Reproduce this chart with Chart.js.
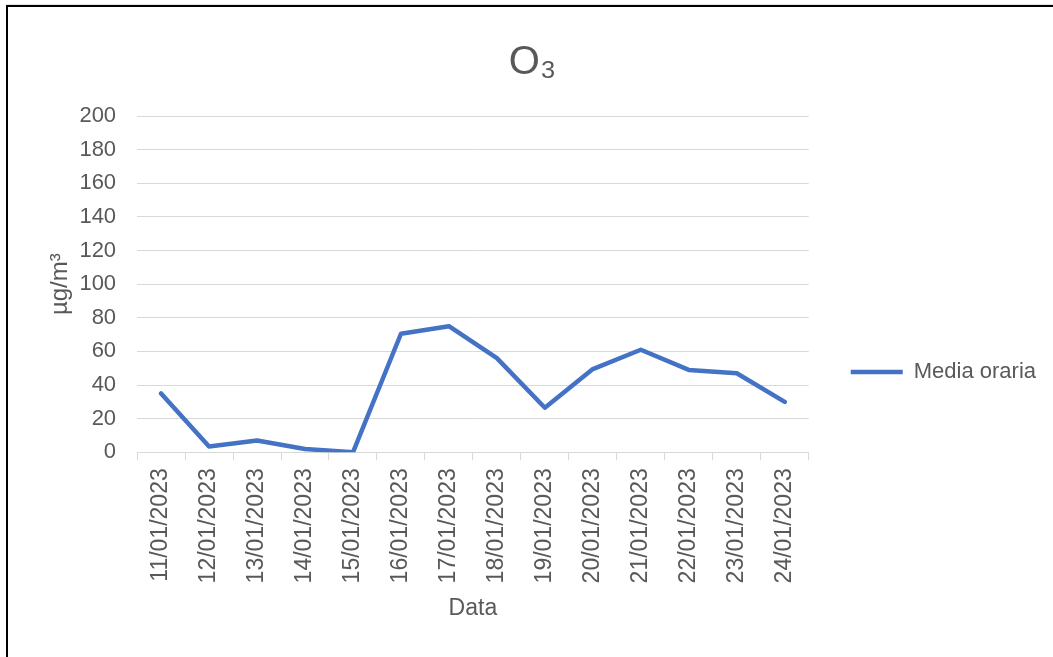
<!DOCTYPE html>
<html>
<head>
<meta charset="utf-8">
<script src="https://cdn.jsdelivr.net/npm/chart.js@4.4.1/dist/chart.umd.min.js"></script>
<style>
  html, body { margin: 0; padding: 0; background: #fff; overflow: hidden; }
  #wrap { position: relative; width: 1053px; height: 657px; overflow: hidden; }
  #frame { position: absolute; left: 6px; top: 5px; width: 1100px; height: 700px;
           border-top: 2px solid #000; border-left: 2px solid #000;
           box-shadow: 0 -1px 0 #e2e2e2; pointer-events: none; }
  canvas { position: absolute; left: 0; top: 0; }
</style>
</head>
<body>
<div id="wrap">
  <canvas id="c" width="1053" height="744"></canvas>
  <div id="frame"></div>
</div>
<script>
const categories = ["11/01/2023","12/01/2023","13/01/2023","14/01/2023","15/01/2023","16/01/2023","17/01/2023",
                    "18/01/2023","19/01/2023","20/01/2023","21/01/2023","22/01/2023","23/01/2023","24/01/2023"];
const mediaOraria = [35, 3.5, 7, 2, 0, 70.5, 75, 56, 26.5, 49.5, 61, 49, 47, 30];
const seriesName = "Media oraria";
const chartTitle = "O\u2083";
const yAxisTitle = "\u00b5g/m\u00b3";
const xAxisTitle = "Data";
const yMin = 0, yMax = 200, yStep = 20;

const FONT = "'Liberation Sans', Arial, sans-serif";
const TXT = "#595959";
const GRID = "#d9d9d9";

new Chart(document.getElementById('c'), {
  type: 'line',
  data: {
    labels: categories,
    datasets: [{
      label: seriesName,
      data: mediaOraria,
      borderColor: '#4472c4',
      backgroundColor: '#4472c4',
      borderWidth: 4.5,
      borderCapStyle: 'round',
      borderJoinStyle: 'round',
      pointRadius: 0,
      pointHoverRadius: 0,
      tension: 0,
      fill: false
    }]
  },
  options: {
    responsive: false,
    animation: false,
    layout: { padding: { left: 19, right: 7, top: 0, bottom: 0 } },
    plugins: {
      tooltip: { enabled: false },
      title: {
        display: true,
        text: chartTitle,
        color: TXT,
        font: { family: FONT, size: 40, weight: 'normal', lineHeight: 1.2 },
        padding: { top: 39, bottom: 29 }
      },
      legend: {
        display: true,
        position: 'right',
        align: 'center',
        labels: {
          color: TXT,
          font: { family: FONT, size: 22 },
          usePointStyle: true,
          pointStyle: 'line',
          pointStyleWidth: 52,
          boxHeight: 22,
          padding: 42
        }
      }
    },
    scales: {
      x: {
        offset: true,
        grid: { offset: true, drawOnChartArea: false, drawTicks: true, tickLength: 8, color: GRID, lineWidth: 1 },
        border: { display: true, color: GRID, width: 1 },
        ticks: {
          autoSkip: false, minRotation: 90, maxRotation: 90, padding: 8,
          color: TXT, font: { family: FONT, size: 23 }
        },
        title: {
          display: true, text: xAxisTitle, color: TXT,
          font: { family: FONT, size: 23 },
          padding: { top: 3, bottom: 122 }
        }
      },
      y: {
        min: yMin, max: yMax,
        grid: { color: GRID, lineWidth: 1, drawTicks: false },
        border: { display: false },
        ticks: { stepSize: yStep, padding: 21, color: TXT, font: { family: FONT, size: 22 } },
        title: {
          display: true, text: yAxisTitle, color: TXT,
          font: { family: FONT, size: 24 },
          padding: { top: 26.6, bottom: -16 }
        }
      }
    }
  }
});
</script>
</body>
</html>
